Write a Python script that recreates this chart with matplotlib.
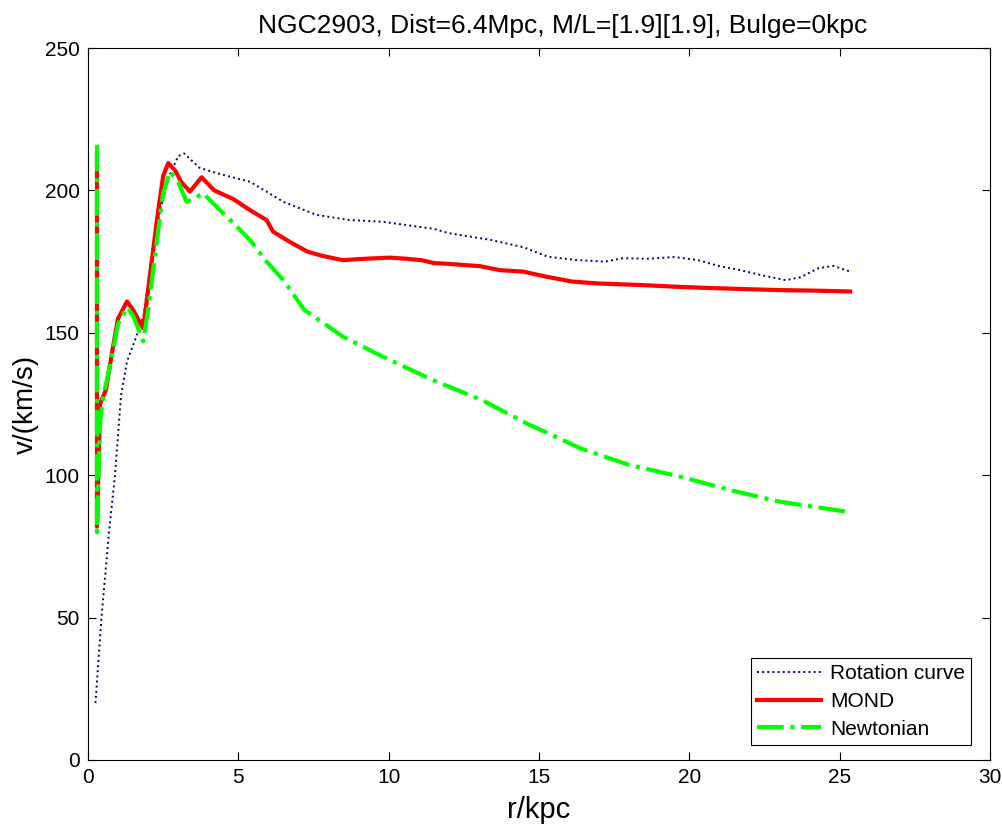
import numpy as np
import matplotlib
matplotlib.use("Agg")
import matplotlib.pyplot as plt

plt.rcParams['font.family'] = ['Liberation Sans', 'DejaVu Sans']

# rotation curve (observed)
r_rot = [0.25, 0.45, 0.7, 0.9, 1.1, 1.3, 1.55, 1.85, 2.1, 2.4, 2.7, 3.0, 3.2, 3.7, 4.3,
         5.4, 6.5, 7.6, 8.7, 9.8, 11.5, 12.0, 13.4, 14.5, 15.3, 16.3, 17.2, 17.8, 18.6,
         19.5, 20.3, 21.0, 21.7, 22.5, 23.2, 23.7, 24.3, 24.8, 25.35]
v_rot = [20, 50, 80, 100, 128, 140, 147, 156, 175, 193, 205, 212, 213, 208, 206,
         203, 196, 191.4, 189.6, 189, 186.5, 185, 182.6, 180, 176.7, 175.5, 175, 176.2, 176,
         176.6, 175.5, 173.4, 172, 170, 168.5, 169.5, 172.7, 173.5, 171.5]

# MOND
r_mond = [0.3, 0.3, 0.4, 0.6, 0.8, 1.0, 1.3, 1.5, 1.84, 2.0, 2.3, 2.5, 2.67, 2.9, 3.1,
          3.39, 3.78, 4.2, 4.83, 5.4, 5.94, 6.16, 6.7, 7.3, 7.8, 8.48, 9.2, 10.04, 10.6,
          11.1, 11.5, 12.0, 13.04, 13.7, 14.47, 15.25, 16.1, 17.0, 18.36, 19.5, 20.5,
          21.7, 23.0, 24.2, 25.35]
v_mond = [213, 82, 125, 130, 143, 155, 161, 158, 151.6, 165, 190, 205, 209.6, 207, 203,
          199.6, 204.6, 200, 197, 193, 189.6, 185.5, 182, 178.5, 177, 175.5, 176, 176.4, 176,
          175.5, 174.5, 174.2, 173.4, 172, 171.5, 169.7, 168, 167.3, 166.8, 166.2, 165.8,
          165.4, 165, 164.8, 164.5]

# Newtonian
r_newt = [0.3, 0.3, 0.4, 0.5, 0.8, 1.0, 1.3, 1.5, 1.84, 2.0, 2.3, 2.5, 2.73, 3.0, 3.28,
          3.5, 3.83, 4.3, 4.83, 5.39, 5.94, 6.5, 7.2, 8.49, 9.81, 11.47, 13.1, 14.7,
          15.25, 16.36, 18.0, 19.7, 21.35, 23.0, 25.23]
v_newt = [216, 80, 118, 127, 142, 153, 159, 156, 147, 158, 183, 199, 206.6, 203, 196,
          197, 199, 194, 188.6, 182.6, 175, 168.5, 158, 148.6, 141.6, 133.4, 126.4, 117.6,
          115, 109.5, 103.6, 99.5, 94.8, 90.7, 87.2]

fig = plt.figure(figsize=(10.04, 8.25), dpi=100)
ax = fig.add_axes([0.0876, 0.0788, 0.8984, 0.863])

ax.plot(r_rot, v_rot, color="#00008b", linestyle=":", linewidth=1.4, label="Rotation curve")
ax.plot(r_mond, v_mond, color="red", linestyle="-", linewidth=3, label="MOND")
ax.plot(r_newt, v_newt, color="#00ff00", linestyle="-.", linewidth=3, label="Newtonian")

ax.set_xlim(0, 30)
ax.set_ylim(0, 250)
ax.set_xticks(np.arange(0, 31, 5))
ax.set_yticks(np.arange(0, 251, 50))
ax.tick_params(direction="in", top=True, right=True, labelsize=15, length=6, pad=6)
ax.set_xlabel("r/kpc", fontsize=21, labelpad=6)
ax.set_ylabel("v/(km/s)", fontsize=20, labelpad=4)
ax.set_title("NGC2903, Dist=6.4Mpc, M/L=[1.9][1.9], Bulge=0kpc", fontsize=19, pad=11, x=0.526)

leg = ax.legend(loc="lower right", bbox_to_anchor=(0.979, 0.021), borderaxespad=0,
                fontsize=15, fancybox=False, edgecolor="black", framealpha=1,
                handlelength=3.1, borderpad=0.3, labelspacing=0.42, handletextpad=0.4)
leg.get_frame().set_linewidth(0.8)

fig.savefig("out.png", dpi=100)
